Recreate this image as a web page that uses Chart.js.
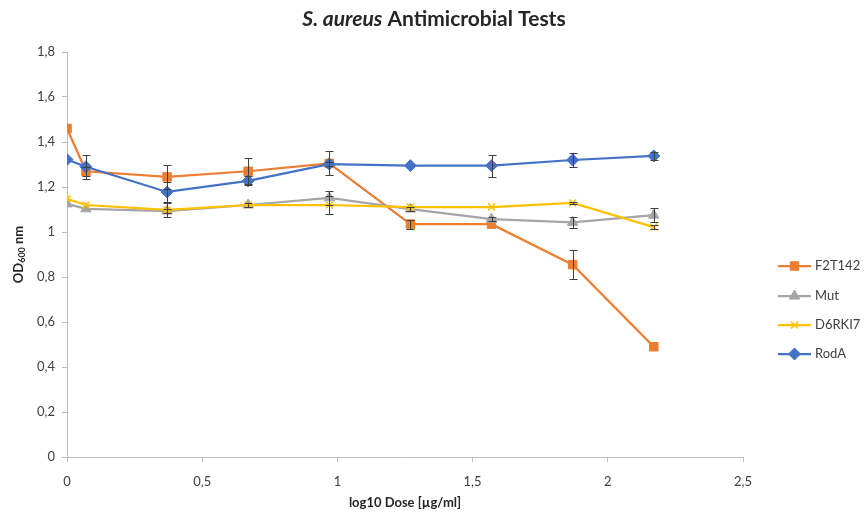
<!DOCTYPE html>
<html>
<head>
<meta charset="utf-8">
<script src="https://cdn.jsdelivr.net/npm/chart.js@4"></script>
<style>
  html, body { margin: 0; padding: 0; background: #fff; }
  #wrap { width: 868px; height: 518px; position: relative; }
</style>
</head>
<body>
<div id="wrap"><canvas id="chart" width="868" height="518"></canvas></div>
<script>
// log10 doses and measured OD600 per strain
const doses = [0, 0.07, 0.37, 0.67, 0.97, 1.27, 1.57, 1.87, 2.17];
const seriesNames = ['F2T142', 'Mut', 'D6RKI7', 'RodA'];
const f2t142 = [1.46, 1.27, 1.245, 1.27, 1.305, 1.035, 1.035, 0.855, 0.49];
const f2t142Err = [0, 0.02, 0.053, 0.058, 0.053, 0.02, 0, 0.064, 0];
const mut = [1.125, 1.103, 1.093, 1.12, 1.152, 1.102, 1.057, 1.043, 1.075];
const mutErr = [0, 0, 0.01, 0, 0.03, 0.01, 0.01, 0.025, 0.03];
const d6rki7 = [1.147, 1.12, 1.098, 1.12, 1.12, 1.111, 1.111, 1.129, 1.022];
const d6rki7Err = [0, 0, 0.03, 0.01, 0.04, 0, 0, 0.005, 0.01];
const rodA = [1.322, 1.29, 1.178, 1.227, 1.302, 1.295, 1.295, 1.32, 1.338];
const rodAErr = [0, 0.053, 0.045, 0.02, 0.01, 0, 0.049, 0.033, 0.018];
const xTickLabels = ['0', '0,5', '1', '1,5', '2', '2,5'];
const yTickLabels = ['0', '0,2', '0,4', '0,6', '0,8', '1', '1,2', '1,4', '1,6', '1,8'];

const FONT = 'Lato, "Liberation Sans", sans-serif';
const TEXT = '#404040';
const AXIS = '#bfbfbf';

function points(values) {
    return values.map((v, i) => ({ x: doses[i], y: v }));
}

function makeSet(label, values, errors, color, style, radius, order) {
    return {
        label: label,
        data: points(values),
        errors: errors,
        showLine: true,
        borderColor: color,
        backgroundColor: color,
        borderWidth: 2.25,
        pointStyle: style,
        pointRadius: radius,
        pointHoverRadius: radius,
        pointBorderColor: color,
        pointBackgroundColor: color,
        pointBorderWidth: style === 'crossRot' ? 1.5 : 1,
        order: order
    };
}

// Excel style error bars
const errorBars = {
    id: 'errorBars',
    afterDatasetsDraw(chart) {
        const ctx = chart.ctx;
        const xs = chart.scales.x, ys = chart.scales.y;
        ctx.save();
        ctx.strokeStyle = '#404040';
        ctx.lineWidth = 1;
        chart.data.datasets.forEach(ds => {
            ds.data.forEach((p, j) => {
                const e = ds.errors[j];
                if (!e) return;
                const x = Math.round(xs.getPixelForValue(p.x)) + 0.5;
                const y1 = Math.round(ys.getPixelForValue(p.y + e)) + 0.5;
                const y2 = Math.round(ys.getPixelForValue(p.y - e)) + 0.5;
                ctx.beginPath();
                ctx.moveTo(x, y1); ctx.lineTo(x, y2);
                ctx.moveTo(x - 4, y1); ctx.lineTo(x + 4, y1);
                ctx.moveTo(x - 4, y2); ctx.lineTo(x + 4, y2);
                ctx.stroke();
            });
        });
        ctx.restore();
    }
};

// title, axis titles and legend drawn by hand (mixed italic + subscript)
const decorations = {
    id: 'decorations',
    afterDraw(chart) {
        const ctx = chart.ctx;
        const area = chart.chartArea;
        ctx.save();
        ctx.fillStyle = '#262626';
        ctx.textBaseline = 'middle';

        // title
        ctx.font = 'italic bold 21px ' + FONT;
        const part1 = 'S. aureus';
        const w1 = ctx.measureText(part1).width;
        ctx.font = 'bold 21px ' + FONT;
        const part2 = ' Antimicrobial Tests';
        const w2 = ctx.measureText(part2).width;
        let tx = 434 - (w1 + w2) / 2;
        ctx.textAlign = 'left';
        ctx.font = 'italic bold 21px ' + FONT;
        ctx.fillText(part1, tx, 19);
        ctx.font = 'bold 21px ' + FONT;
        ctx.fillText(part2, tx + w1, 19);

        // x axis title
        ctx.fillStyle = '#262626';
        ctx.font = 'bold 13px ' + FONT;
        ctx.textAlign = 'center';
        ctx.fillText('log10 Dose [µg/ml]', (area.left + area.right) / 2, 503);

        // y axis title with subscript
        ctx.save();
        ctx.translate(19, (area.top + area.bottom) / 2);
        ctx.rotate(-Math.PI / 2);
        const a = 'OD', c = ' nm';
        ctx.font = 'bold 13px ' + FONT;
        const wa = ctx.measureText(a).width, wc = ctx.measureText(c).width;
        ctx.font = 'bold 9px ' + FONT;
        const wb = ctx.measureText('600').width;
        let sx = -(wa + wb + wc) / 2;
        ctx.textAlign = 'left';
        ctx.font = 'bold 13px ' + FONT;
        ctx.fillText(a, sx, 0);
        ctx.font = 'bold 9px ' + FONT;
        ctx.fillText('600', sx + wa, 3);
        ctx.font = 'bold 13px ' + FONT;
        ctx.fillText(c, sx + wa + wb, 0);
        ctx.restore();

        // legend
        const ly = [266, 296, 325, 354];
        chart.data.datasets.forEach((ds, k) => {
            const y = ly[k];
            ctx.strokeStyle = ds.borderColor;
            ctx.lineWidth = 2.25;
            ctx.beginPath();
            ctx.moveTo(778, y); ctx.lineTo(811, y);
            ctx.stroke();
            ctx.fillStyle = ds.borderColor;
            ctx.strokeStyle = ds.borderColor;
            ctx.lineWidth = ds.pointBorderWidth;
            Chart.helpers.drawPoint(ctx, {
                pointStyle: ds.pointStyle,
                radius: ds.pointRadius,
                borderWidth: ds.pointBorderWidth,
                rotation: 0
            }, 794.5, y);
            ctx.fillStyle = TEXT;
            ctx.font = '13px ' + FONT;
            ctx.textAlign = 'left';
            ctx.fillText(ds.label, 815, y);
        });
        ctx.restore();
    }
};

const ctx = document.getElementById('chart').getContext('2d');
new Chart(ctx, {
    type: 'scatter',
    data: {
        datasets: [
            makeSet(seriesNames[0], f2t142, f2t142Err, '#ED7D31', 'rect', 6, 3),
            makeSet(seriesNames[1], mut, mutErr, '#A5A5A5', 'triangle', 6, 2),
            makeSet(seriesNames[2], d6rki7, d6rki7Err, '#FFC000', 'crossRot', 5, 1),
            makeSet(seriesNames[3], rodA, rodAErr, '#4472C4', 'rectRot', 6, 0)
        ]
    },
    options: {
        responsive: false,
        animation: false,
        layout: { padding: { top: 52, right: 125, left: 0, bottom: 0 } },
        plugins: {
            legend: { display: false },
            tooltip: { enabled: false },
            title: { display: false }
        },
        scales: {
            x: {
                type: 'linear',
                min: 0,
                max: 2.5,
                afterFit: s => { s.height = 518 - 457; },
                ticks: {
                    stepSize: 0.5,
                    color: TEXT,
                    font: { family: FONT, size: 13 },
                    padding: 12,
                    maxRotation: 0,
                    callback: (v) => xTickLabels[Math.round(v / 0.5)]
                },
                grid: { drawOnChartArea: false, drawTicks: true, tickLength: 5, color: AXIS },
                border: { color: AXIS }
            },
            y: {
                min: 0,
                max: 1.8,
                afterFit: s => { s.width = 67; },
                ticks: {
                    stepSize: 0.2,
                    color: TEXT,
                    font: { family: FONT, size: 13 },
                    padding: 7,
                    callback: (v) => yTickLabels[Math.round(v / 0.2)]
                },
                grid: { drawOnChartArea: false, drawTicks: true, tickLength: 5, color: AXIS },
                border: { color: AXIS }
            }
        }
    },
    plugins: [errorBars, decorations]
});
</script>
</body>
</html>
